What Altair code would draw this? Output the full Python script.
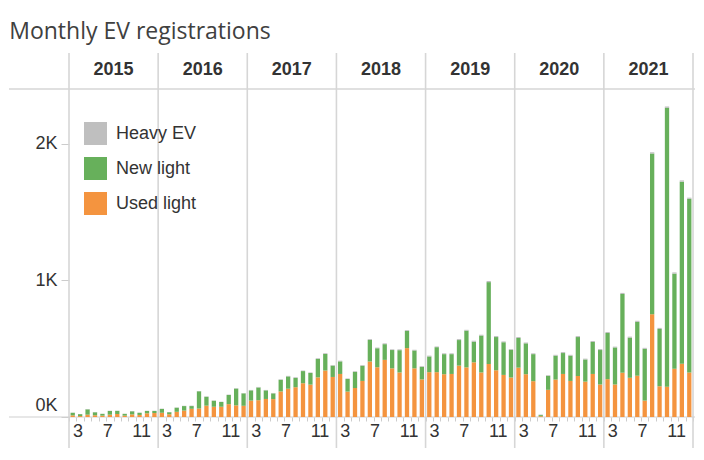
import altair as alt
import pandas as pd

years = [2015, 2016, 2017, 2018, 2019, 2020, 2021]
months = list(range(1, 13))
series_names = ["Heavy EV", "New light", "Used light"]
series_colors = ["#bfbfbf", "#67b05b", "#f4943f"]

used_light = [
    12, 7, 17, 12, 10, 17, 22, 10, 19, 15, 27, 29,
    31, 20, 38, 47, 60, 63, 83, 75, 75, 94, 85, 82,
    120, 123, 132, 131, 187, 207, 218, 247, 237, 290, 340, 293,
    315, 186, 212, 264, 406, 364, 418, 356, 326, 504, 356, 275,
    328, 328, 313, 315, 376, 363, 400, 326, 388, 342, 308, 289,
    361, 313, 262, 6, 199, 274, 315, 264, 300, 259, 315, 238,
    277, 238, 324, 287, 302, 120, 752, 225, 222, 353, 390, 326,
]
new_light = [
    19, 14, 39, 23, 13, 27, 23, 13, 23, 16, 17, 15,
    28, 15, 30, 33, 20, 125, 65, 44, 35, 67, 123, 91,
    75, 93, 63, 42, 85, 90, 68, 89, 85, 135, 121, 83,
    92, 92, 118, 111, 158, 139, 115, 134, 163, 126, 131, 92,
    115, 183, 147, 145, 187, 269, 151, 270, 599, 243, 239, 202,
    217, 226, 198, 8, 102, 175, 153, 185, 285, 162, 234, 252,
    338, 271, 576, 294, 394, 379, 1176, 419, 2040, 696, 1332, 1271,
]
heavy_ev = [
    1, 1, 2, 1, 1, 2, 1, 1, 2, 1, 2, 2,
    2, 1, 2, 2, 3, 2, 3, 2, 2, 3, 3, 2,
    3, 4, 3, 3, 4, 4, 5, 4, 4, 5, 5, 4,
    5, 4, 5, 5, 6, 5, 6, 5, 6, 6, 5, 5,
    6, 5, 6, 6, 7, 6, 7, 6, 8, 7, 6, 6,
    7, 6, 6, 4, 5, 6, 7, 6, 7, 6, 7, 7,
    7, 6, 8, 7, 8, 7, 9, 8, 10, 9, 9, 8,
]
y_ticks = [0, 1000, 2000]

rows = []
for yi, yr in enumerate(years):
    for m in months:
        i = yi * 12 + (m - 1)
        for s, vals, o in (("Used light", used_light, 0), ("New light", new_light, 1), ("Heavy EV", heavy_ev, 2)):
            rows.append({"year": yr, "month": m, "pos": i + 0.5, "series": s, "value": vals[i], "stack_order": o})
df = pd.DataFrame(rows)

bounds = pd.DataFrame({"b": [i * 12 for i in range(len(years) + 1)]})
heads = pd.DataFrame({"c": [i * 12 + 6 for i in range(len(years))], "label": [str(y) for y in years]})
one = pd.DataFrame({"a": [0]})

W, H = 624, 328
FONT = "Liberation Sans"
n_months = len(years) * 12

# month boundary k with k % 12 == 1/5/9 carries the label 3/7/11
label_expr = "+datum.value % 12 == 1 ? '3' : +datum.value % 12 == 5 ? '7' : +datum.value % 12 == 9 ? '11' : ''"

xscale = alt.Scale(domain=[0, n_months], nice=False, zero=False, padding=0)
xaxis = alt.Axis(
    values=list(range(0, n_months + 1)),
    labelExpr=label_expr,
    labelOverlap=False,
    labelFlush=False,
    grid=False,
    domain=False,
    title=None,
    tickColor="#cccccc",
    tickSize=4,
    labelPadding=1,
    labelAlign="left",
    labelOffset=-4,
    labelFont=FONT,
    labelFontSize=18,
    labelColor="#333333",
)

sep = alt.Chart(bounds).mark_rule(color="#d6d6d6", strokeWidth=1.6).encode(
    x=alt.X("b:Q", scale=xscale, axis=xaxis, title=None),
    y=alt.value(-36),
    y2=alt.value(H + 31),
)
top_line = alt.Chart(one).mark_rule(color="#d6d6d6", strokeWidth=1.6).encode(
    x=alt.value(-60), x2=alt.value(W + 2), y=alt.value(0)
)
bottom_line = alt.Chart(one).mark_rule(color="#cfcfcf", strokeWidth=1.2).encode(
    x=alt.value(-60), x2=alt.value(W + 2), y=alt.value(H)
)

bars = alt.Chart(df).mark_bar(size=4.3).encode(
    x=alt.X("pos:Q", scale=xscale, axis=xaxis, title=None),
    y=alt.Y(
        "value:Q",
        stack="zero",
        title=None,
        scale=alt.Scale(domain=[0, 2400], nice=False),
        axis=alt.Axis(
            values=y_ticks,
            labelExpr="(datum.value / 1000) + 'K'",
            grid=False,
            domain=False,
            tickColor="#cccccc",
            tickSize=8,
            labelPadding=4,
            labelFlush=True,
            labelFlushOffset=-3,
            labelFont=FONT,
            labelFontSize=18,
            labelColor="#333333",
        ),
    ),
    color=alt.Color(
        "series:N",
        scale=alt.Scale(domain=series_names, range=series_colors),
        legend=alt.Legend(
            title=None,
            orient="none",
            legendX=15,
            legendY=33,
            padding=0,
            symbolType="square",
            symbolSize=529,
            symbolStrokeWidth=0,
            symbolOpacity=1,
            rowPadding=12,
            labelOffset=9,
            labelFont=FONT,
            labelFontSize=18,
            labelColor="#333333",
        ),
    ),
    order=alt.Order("stack_order:Q", sort="ascending"),
)

headers = alt.Chart(heads).mark_text(
    font=FONT, fontSize=18, fontWeight="bold", color="#333333", baseline="middle"
).encode(
    x=alt.X("c:Q", scale=xscale, axis=xaxis, title=None),
    y=alt.value(-19),
    text="label:N",
)

chart = alt.layer(sep, top_line, bottom_line, bars, headers).properties(
    width=W,
    height=H,
    padding={"left": 0, "top": 13, "right": 0, "bottom": 0},
    title=alt.TitleParams(
        "Monthly EV registrations",
        anchor="start",
        frame="bounds",
        font="Open Sans",
        fontSize=23,
        fontWeight="normal",
        color="#404040",
        offset=8,
        dx=1,
    ),
).configure_view(stroke=None)

chart.save("out.html", embed_options={"renderer": "svg", "actions": False})
